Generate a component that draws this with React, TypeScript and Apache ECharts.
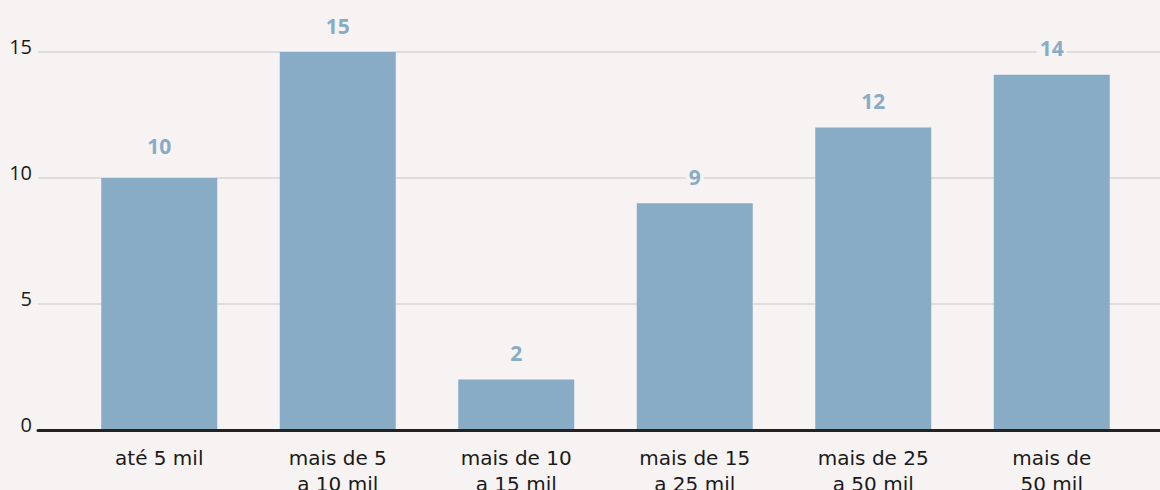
import React, { useEffect, useRef } from "react";
import * as echarts from "echarts";

const categories = [
  "até 5 mil",
  "mais de 5\na 10 mil",
  "mais de 10\na 15 mil",
  "mais de 15\na 25 mil",
  "mais de 25\na 50 mil",
  "mais de\n50 mil",
];
const values = [10, 15, 2, 9, 12, 14.1];
const valueLabels = ["10", "15", "2", "9", "12", "14"];
const yTicks = [0, 5, 10, 15];

const BG = "#f7f3f3";
const BAR = "#88abc6";
const FONT = "'Open Sans', 'Noto Sans', sans-serif";
const XFONT = "'DejaVu Sans', sans-serif";

export default function App() {
  const ref = useRef<HTMLDivElement>(null);
  useEffect(() => {
    if (!ref.current) return;
    const chart = echarts.init(ref.current, undefined, { renderer: "svg" });
    const yMax = yTicks[yTicks.length - 1];
    chart.setOption({
      animation: false,
      backgroundColor: BG,
      textStyle: { fontFamily: FONT },
      grid: [
        { left: 38, right: 0, top: 52, bottom: 60, outerBoundsMode: "none", containLabel: false },
        { left: 70, right: 19, top: 52, bottom: 60, outerBoundsMode: "none", containLabel: false },
      ],
      xAxis: [
        {
          gridIndex: 0,
          type: "value",
          min: 0,
          max: 1,
          z: 10,
          axisLine: { show: true, onZero: false, lineStyle: { color: "#222222", width: 3 } },
          axisTick: { show: false },
          axisLabel: { show: false },
          splitLine: { show: false },
        },
        {
          gridIndex: 1,
          type: "category",
          data: categories,
          axisLine: { show: false },
          axisTick: { show: false },
          axisLabel: {
            color: "#1a1a1a",
            fontSize: 20,
            lineHeight: 26,
            margin: 15,
            fontFamily: XFONT,
          },
        },
      ],
      yAxis: [
        {
          gridIndex: 0,
          type: "value",
          min: 0,
          max: yMax,
          interval: 5,
          axisLine: { show: false },
          axisTick: { show: false },
          axisLabel: {
            color: "#1a1a1a",
            fontSize: 20,
            margin: 6,
            verticalAlign: "bottom",
            padding: [0, 0, -4, 0],
            fontFamily: FONT,
          },
          splitLine: { lineStyle: { color: "#d6d4d4", width: 1.5 } },
        },
        {
          gridIndex: 1,
          type: "value",
          min: 0,
          max: yMax,
          interval: 5,
          show: false,
        },
      ],
      series: [
        {
          type: "bar",
          xAxisIndex: 1,
          yAxisIndex: 1,
          barWidth: 116,
          itemStyle: { color: BAR },
          label: {
            show: true,
            position: "top",
            distance: 16,
            color: BAR,
            fontSize: 21,
            fontWeight: "bold",
            fontFamily: FONT,
            backgroundColor: BG,
            padding: [0, 3],
            formatter: (p: any) => valueLabels[p.dataIndex],
          },
          data: values.map((v, i) =>
            i === 0 ? { value: v, label: { distance: 22 } } : v
          ),
        },
      ],
    });
    return () => chart.dispose();
  }, []);
  return (
    <div
      ref={ref}
      style={{ position: "fixed", left: 0, top: 0, width: 1160, height: 490 }}
    />
  );
}
